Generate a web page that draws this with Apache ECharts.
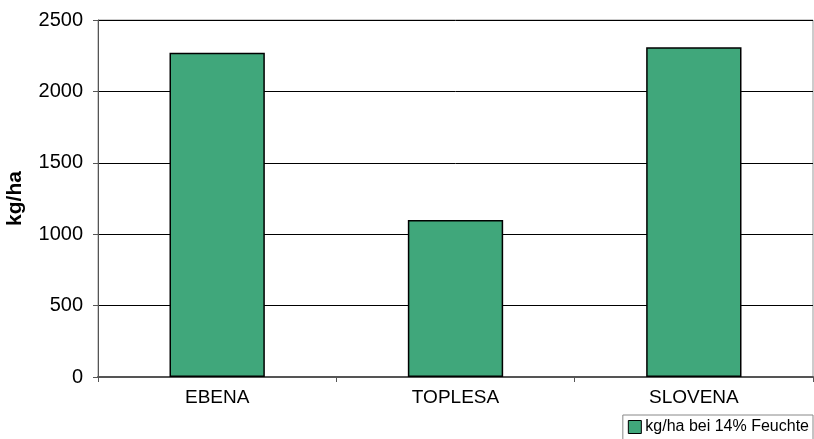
<!DOCTYPE html>
<html><head><meta charset="utf-8">
<script src="https://cdn.jsdelivr.net/npm/echarts@6/dist/echarts.min.js"></script>
<style>html,body{margin:0;padding:0;background:#fff}#c{width:814px;height:439px}</style>
</head><body><div id="c"></div>
<script>
const categories = ['EBENA', 'TOPLESA', 'SLOVENA'];
const values = [2270, 1100, 2310];
const seriesName = 'kg/ha bei 14% Feuchte';
const yTicks = [0, 500, 1000, 1500, 2000, 2500];

const chart = echarts.init(document.getElementById('c'));
chart.setOption({
  animation: false,
  grid: { left: 98, right: 1, top: 20, bottom: 62, show: true, borderColor: '#999', borderWidth: 1,
          containLabel: false, outerBoundsMode: 'none' },
  legend: {
    right: 1, top: 415, itemWidth: 13, itemHeight: 13, itemGap: 4, padding: [4, 4, 6, 5],
    borderColor: '#888', borderWidth: 1, borderRadius: 0, icon: 'rect',
    textStyle: { fontFamily: 'Liberation Sans, Arial', fontSize: 16, color: '#000', padding: [0, 0, 0, -1] },
    data: [{ name: seriesName, itemStyle: { borderColor: '#000', borderWidth: 1 } }]
  },
  xAxis: {
    type: 'category', data: categories,
    axisLine: { lineStyle: { color: '#555', width: 2 } },
    axisTick: { show: true, alignWithLabel: false, length: 5, lineStyle: { color: '#555' } },
    axisLabel: { fontFamily: 'Liberation Sans, Arial', fontSize: 19, color: '#000', margin: 11 }
  },
  yAxis: {
    type: 'value', min: 0, max: 2500, interval: 500,
    name: 'kg/ha', nameLocation: 'middle', nameGap: 72, nameRotate: 90,
    nameTextStyle: { fontFamily: 'Liberation Sans, Arial', fontSize: 21, fontWeight: 'bold', color: '#000' },
    axisLine: { show: true, lineStyle: { color: '#555', width: 1 } },
    axisTick: { show: true, length: 5, lineStyle: { color: '#555' } },
    splitLine: { show: true, lineStyle: { color: '#000', width: 1 } },
    axisLabel: { fontFamily: 'Liberation Sans, Arial', fontSize: 20, color: '#000', margin: 15,
      formatter: v => yTicks.includes(v) ? String(v) : '' }
  },
  series: [{
    name: seriesName, type: 'bar', data: values, barWidth: '40%',
    itemStyle: { color: '#40A77B', borderColor: '#000', borderWidth: 1.5 }
  }]
});
</script></body></html>
